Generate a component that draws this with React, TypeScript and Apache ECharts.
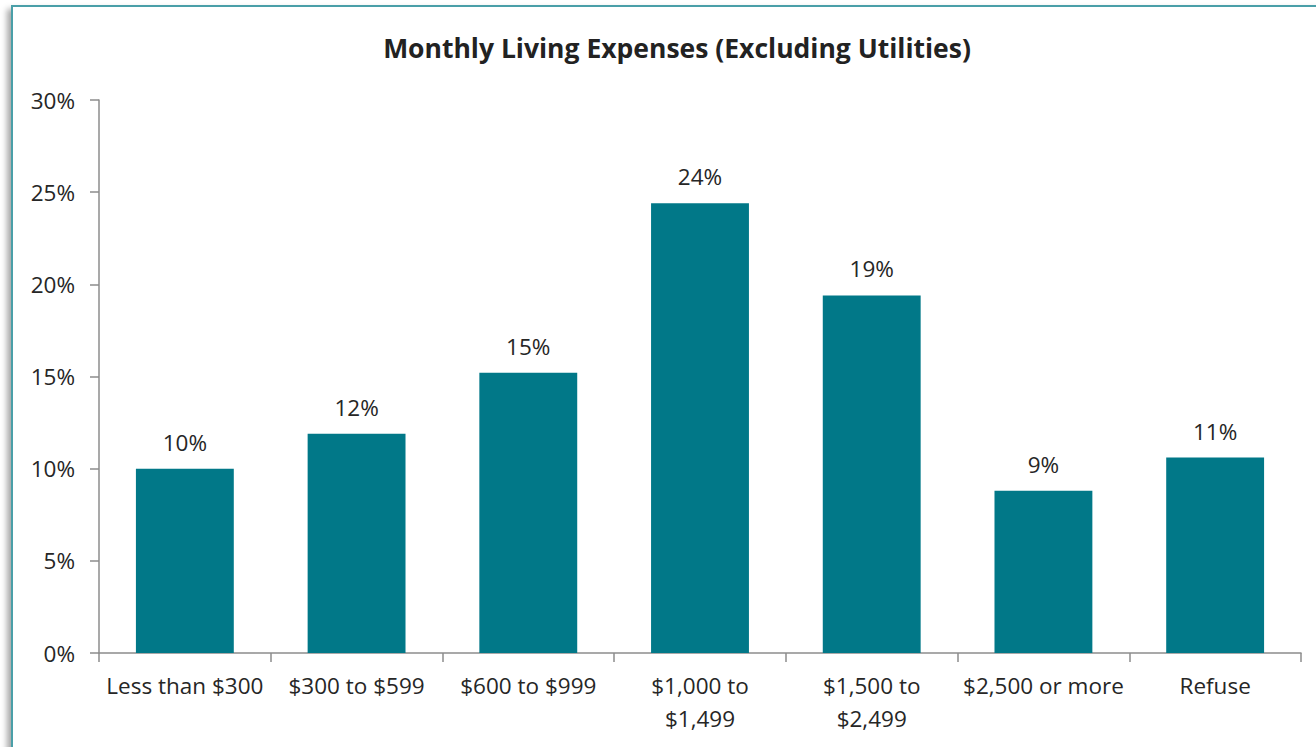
import React, { useEffect, useRef } from "react";
import * as echarts from "echarts";

const categories = [
  "Less than $300",
  "$300 to $599",
  "$600 to $999",
  "$1,000 to\n$1,499",
  "$1,500 to\n$2,499",
  "$2,500 or more",
  "Refuse",
];
const values = [10.0, 11.9, 15.2, 24.4, 19.4, 8.8, 10.6];
const yTicks = [0, 5, 10, 15, 20, 25, 30];
const title = "Monthly Living Expenses (Excluding Utilities)";

const FONT = "'Open Sans', sans-serif";

export default function App() {
  const ref = useRef<HTMLDivElement>(null);
  useEffect(() => {
    document.body.style.margin = "0";
    const chart = echarts.init(ref.current!, undefined, { renderer: "svg" });
    chart.setOption({
      animation: false,
      textStyle: { fontFamily: FONT },
      title: {
        text: title,
        left: 672,
        top: 29,
        textAlign: "center",
        textStyle: { fontFamily: FONT, fontSize: 26.5, fontWeight: "bold", color: "#222222" },
      },
      grid: { left: 99, right: 15, top: 100, bottom: 94, containLabel: false },
      xAxis: {
        type: "category",
        data: categories,
        axisLine: { lineStyle: { color: "#8c8c8c", width: 1.5 } },
        axisTick: { show: true, alignWithLabel: false, length: 9, lineStyle: { color: "#8c8c8c", width: 1.5 } },
        axisLabel: { color: "#262626", fontSize: 22.5, lineHeight: 33, margin: 16, interval: 0, fontFamily: FONT },
      },
      yAxis: {
        type: "value",
        min: yTicks[0],
        max: yTicks[yTicks.length - 1],
        interval: 5,
        splitLine: { show: false },
        axisLine: { show: true, lineStyle: { color: "#8c8c8c", width: 1.5 } },
        axisTick: { show: true, length: 9, lineStyle: { color: "#8c8c8c", width: 1.5 } },
        axisLabel: { color: "#262626", fontSize: 22.5, margin: 24, formatter: "{value}%", fontFamily: FONT },
      },
      series: [
        {
          type: "bar",
          data: values,
          barWidth: "57%",
          itemStyle: { color: "#017888" },
          label: {
            show: true,
            position: "top",
            distance: 15,
            color: "#262626",
            fontSize: 22.5,
            fontFamily: FONT,
            formatter: (p: any) => Math.round(p.value) + "%",
          },
        },
      ],
    });
    return () => chart.dispose();
  }, []);
  return (
    <div style={{ position: "fixed", left: 0, top: 0, width: 1316, height: 747, overflow: "hidden", background: "#fff" }}>
      <div
        style={{
          position: "absolute",
          left: 11,
          top: 5,
          width: 1400,
          height: 800,
          borderLeft: "2px solid #4a9fa8",
          borderTop: "2px solid #4a9fa8",
          boxShadow: "-4px 4px 6px rgba(0,0,0,0.35)",
          background: "#fff",
        }}
      />
      <div ref={ref} style={{ position: "absolute", left: 0, top: 0, width: 1316, height: 747 }} />
    </div>
  );
}
